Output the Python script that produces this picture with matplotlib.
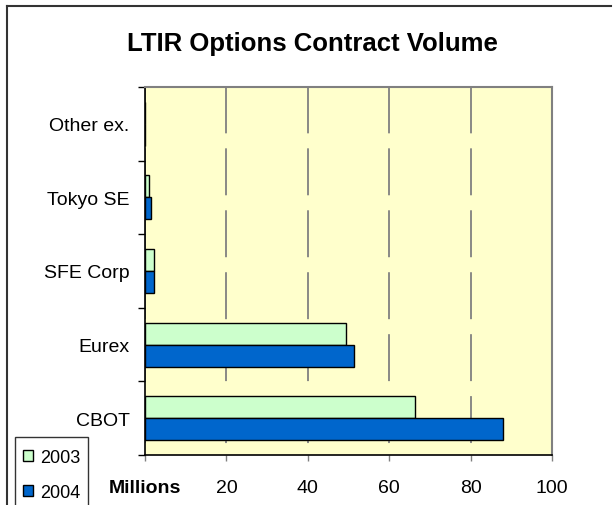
import matplotlib
matplotlib.use('Agg')
import matplotlib.pyplot as plt
from matplotlib.lines import Line2D
from matplotlib.patches import Rectangle
import numpy as np

plt.rcParams['font.family'] = ['Liberation Sans', 'DejaVu Sans']
plt.rcParams['lines.scale_dashes'] = False

# data (millions of contracts)
exchanges = ['CBOT', 'Eurex', 'SFE Corp', 'Tokyo SE', 'Other ex.']
vol_2003 = [66.3, 49.4, 2.1, 1.0, 0.0]
vol_2004 = [88.0, 51.4, 2.1, 1.4, 0.0]
xticks = [0, 20, 40, 60, 80, 100]
xlabels = ['Millions', '20', '40', '60', '80', '100']

W, H = 613, 506
fig = plt.figure(figsize=(W / 100, H / 100), dpi=100)

# outer chart frame (cut off on right/bottom like the source)
fig.add_artist(Line2D([7 / W, 611 / W], [1 - 7 / H, 1 - 7 / H], color='#333333', lw=1.5))
fig.add_artist(Line2D([7 / W, 7 / W], [0, 1 - 7 / H], color='#333333', lw=1.5))

ax = fig.add_axes([145 / W, (H - 456) / H, 407 / W, 368 / H])
ax.set_facecolor('#FFFFCC')

y = np.arange(len(exchanges))
h = 0.3
ax.barh(y + h / 2, vol_2003, height=h, color='#CCFFCC', edgecolor='black', lw=1, label='2003', zorder=3)
ax.barh(y - h / 2, vol_2004, height=h, color='#0066CC', edgecolor='black', lw=1, label='2004', zorder=3)

ax.set_xlim(0, 100)
ax.set_ylim(-0.5, len(exchanges) - 0.5)

ax.set_xticks(xticks)
ax.set_xticklabels(xlabels, fontsize=14)
ax.get_xticklabels()[0].set_fontweight('bold')
ax.tick_params(axis='x', direction='out', length=4, width=1, color='#808080', pad=13)

ax.set_yticks(y)
ax.set_yticklabels(exchanges, fontsize=14)
ax.set_yticks(np.arange(-0.5, len(exchanges)), minor=True)
ax.tick_params(axis='y', which='major', length=0, pad=11)
ax.tick_params(axis='y', which='minor', direction='out', length=5, width=1, color='black')

ax.grid(axis='x', color='#808080', lw=1.3, linestyle=(36, (33.8, 10.8)), zorder=1)

for s in ['left', 'bottom']:
    ax.spines[s].set_color('black')
    ax.spines[s].set_linewidth(1.2)
for s in ['top', 'right']:
    ax.spines[s].set_color('#808080')
    ax.spines[s].set_linewidth(1.5)

fig.text(312 / W, 1 - 44 / H, 'LTIR Options Contract Volume', fontsize=18.5,
         fontweight='bold', ha='center', va='center')

# legend box runs off the bottom edge, as in the source
fig.add_artist(Rectangle((15 / W, -10 / H), 73 / W, (H - 438 + 10) / H,
                         transform=fig.transFigure, facecolor='white',
                         edgecolor='#333333', lw=1, zorder=4))
leg = fig.legend(loc='upper left', bbox_to_anchor=(19 / W, 1 - 446 / H), fontsize=13,
                 handlelength=0.6, handleheight=0.6, handletextpad=0.35,
                 labelspacing=1.0, borderpad=0.2, frameon=False, borderaxespad=0)
leg.set_zorder(5)
for hnd in leg.legend_handles:
    hnd.set_linewidth(1)

plt.savefig('out.png', dpi=100)
